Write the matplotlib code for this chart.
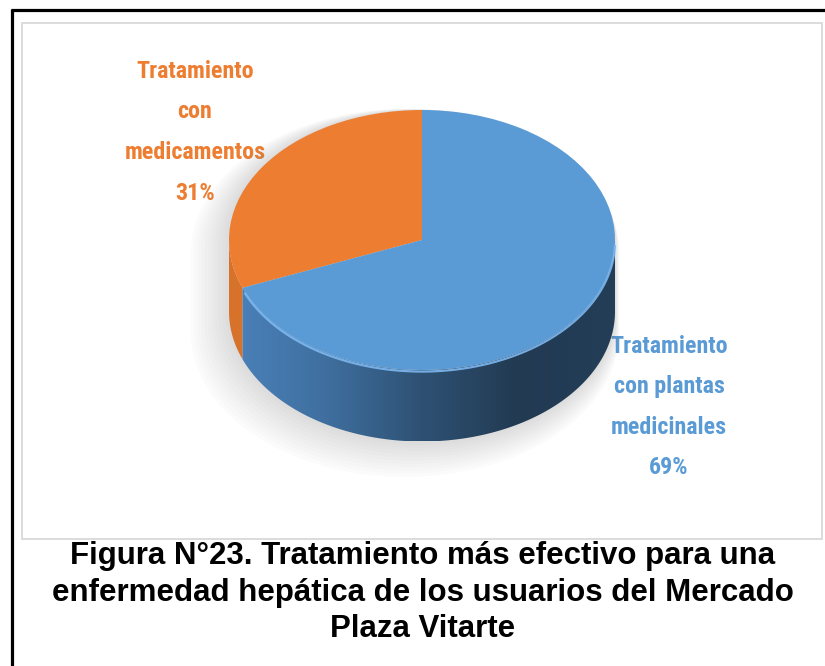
import numpy as np
import matplotlib
matplotlib.use('Agg')
import matplotlib.pyplot as plt
from matplotlib import font_manager
from matplotlib.patches import Polygon, Rectangle
from matplotlib.colors import LinearSegmentedColormap

# data
labels = [['Tratamiento', 'con', 'medicamentos'],
          ['Tratamiento', 'con plantas', 'medicinales']]
shares = [31, 69]
colors = ['#ED7D31', '#5B9BD5']
side_colors = [['#d8732c', '#c8661f'],
               ['#4b82bb', '#3f6f9f', '#2e5173', '#223a52', '#243e58']]
title_lines = ['Figura N°23. Tratamiento más efectivo para una',
               'enfermedad hepática de los usuarios del Mercado',
               'Plaza Vitarte']

# pick a narrow font for the data labels if one is there
installed = {f.name for f in font_manager.fontManager.ttflist}
narrow = None
for name in ['Liberation Sans Narrow', 'Roboto Condensed', 'Open Sans Condensed', 'Lato']:
    if name in installed:
        narrow = name
        break
lab_size = 17.3 if narrow in ('Liberation Sans Narrow', 'Roboto Condensed',
                              'Open Sans Condensed') else 15.5

W, H = 825, 666
fig = plt.figure(figsize=(W / 100, H / 100), dpi=100)
fig.patch.set_facecolor('white')

# pixel-space axes for frames and text
bg = fig.add_axes([0, 0, 1, 1])
bg.set_xlim(0, W)
bg.set_ylim(H, 0)
bg.axis('off')
bg.plot([11, W + 10], [10, 10], color='black', lw=2.3, solid_capstyle='butt')
bg.plot([11.5, 11.5], [9, H + 10], color='black', lw=2.3, solid_capstyle='butt')
bg.add_patch(Rectangle((22, 23), 800, 516, fill=False, edgecolor='#d9d9d9', lw=1.3))

# pie axes: unit circle is squashed into an ellipse
cx, cy, rx, ry, depth = 422, 240, 193, 130, 0.55
xl = (-1.35, 1.35)
yl = (-1 - depth - 0.35, 1.08)
left = cx + xl[0] * rx
width = (xl[1] - xl[0]) * rx
top = cy - yl[1] * ry
height = (yl[1] - yl[0]) * ry
pax = fig.add_axes([left / W, (H - top - height) / H, width / W, height / H])
pax.patch.set_alpha(0)

wedges, _ = pax.pie(shares, colors=colors, startangle=90, counterclock=True,
                    wedgeprops=dict(linewidth=0, zorder=5))

# soft shadow under the pie
tu = np.radians(np.linspace(0, 180, 120))
tl = np.radians(np.linspace(180, 360, 120))
sil = np.vstack([np.column_stack([np.cos(tu), np.sin(tu)]),
                 np.column_stack([np.cos(tl), np.sin(tl) - depth])])
for k in range(12):
    s = 1 + 0.01 * k
    pts = sil.copy()
    pts[:, 0] = pts[:, 0] * s - 0.008 * k
    pts[:, 1] = (pts[:, 1] + depth / 2) * s - depth / 2 - 0.012 * k
    pax.add_patch(Polygon(pts, closed=True, facecolor='#7f7f7f', edgecolor='none',
                          alpha=0.025, zorder=1))

# side walls
for w, cs in zip(wedges, side_colors):
    a0 = max(w.theta1, 180)
    a1 = min(w.theta2, 360)
    if a1 <= a0:
        continue
    t = np.radians(np.linspace(a0, a1, 150))
    wall = np.vstack([np.column_stack([np.cos(t), np.sin(t)]),
                      np.column_stack([np.cos(t[::-1]), np.sin(t[::-1]) - depth])])
    poly = Polygon(wall, closed=True, facecolor='none', edgecolor='none', zorder=3)
    pax.add_patch(poly)
    cmap = LinearSegmentedColormap.from_list('side', cs)
    im = pax.imshow(np.linspace(0, 1, 256)[None, :], cmap=cmap, aspect='auto',
                    extent=(-1, 1, -1 - depth, 0), zorder=3, interpolation='bilinear')
    im.set_clip_path(poly)

# light bevel along the front rim
t = np.radians(np.linspace(wedges[1].theta1 + 2, 358, 150))
pax.plot(np.cos(t), np.sin(t) - 0.012, color='#7db8f0', lw=1.6, alpha=0.9, zorder=6)

pax.set_aspect('auto')
pax.set_xlim(*xl)
pax.set_ylim(*yl)
pax.axis('off')

# data labels
lab_font = dict(family=[narrow or 'DejaVu Sans', 'DejaVu Sans'], weight='bold', size=lab_size)
lab_pos = [(195, 78), (669, 353)]
for lines, share, c, (x0, y0) in zip(labels, shares, colors, lab_pos):
    for i, line in enumerate(lines + [f'{share}%']):
        bg.text(x0, y0 + i * 40.5, line, color=c, ha='center', va='baseline', **lab_font)

# caption
for i, line in enumerate(title_lines):
    bg.text(423, 564 + i * 36.5, line, ha='center', va='baseline', color='black',
            family=['Liberation Sans', 'DejaVu Sans'], weight='bold', size=22.5)

fig.savefig('out.png', dpi=100, facecolor='white')
